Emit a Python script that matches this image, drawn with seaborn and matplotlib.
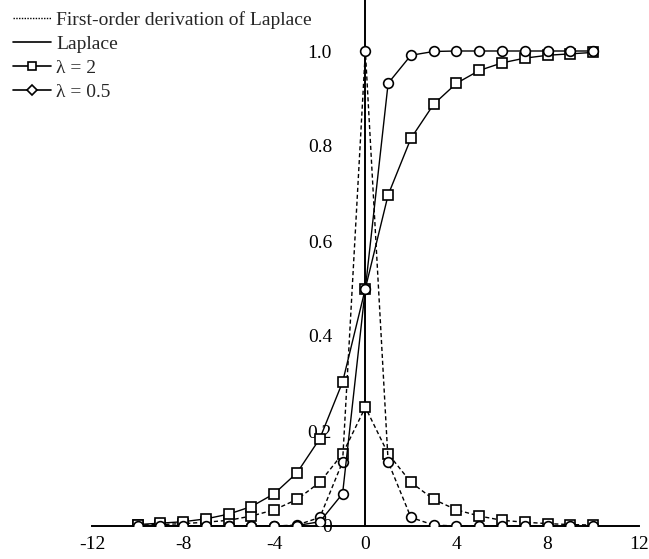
import numpy as np
import pandas as pd
import matplotlib
matplotlib.use('Agg')
import matplotlib.pyplot as plt
import seaborn as sns
from matplotlib.lines import Line2D

sns.set_style('white')
plt.rcParams['font.family'] = ['Liberation Serif', 'DejaVu Serif']

# values (markers at integer x)
x = list(range(-10, 11))
cdf_l2 = [0.003, 0.006, 0.009, 0.015, 0.025, 0.041, 0.068, 0.112, 0.184, 0.303, 0.5,
          0.697, 0.816, 0.888, 0.932, 0.959, 0.975, 0.985, 0.991, 0.994, 0.997]
cdf_l05 = [0.0, 0.0, 0.0, 0.0, 0.0, 0.0, 0.0, 0.001, 0.009, 0.068, 0.5,
           0.932, 0.991, 0.999, 1.0, 1.0, 1.0, 1.0, 1.0, 1.0, 1.0]
pdf_l2 = [0.002, 0.003, 0.005, 0.008, 0.012, 0.021, 0.034, 0.056, 0.092, 0.152, 0.25,
          0.152, 0.092, 0.056, 0.034, 0.021, 0.012, 0.008, 0.005, 0.003, 0.002]
pdf_l05 = [0.0, 0.0, 0.0, 0.0, 0.0, 0.0, 0.0, 0.002, 0.018, 0.135, 1.0,
           0.135, 0.018, 0.002, 0.0, 0.0, 0.0, 0.0, 0.0, 0.0, 0.0]
xticks = [-12, -8, -4, 0, 4, 8, 12]
yticks = [0, 0.2, 0.4, 0.6, 0.8, 1.0]
ytick_labels = ['0', '0.2', '0.4', '0.6', '0.8', '1.0']

df = pd.DataFrame({'x': x, 'cdf_l2': cdf_l2, 'cdf_l05': cdf_l05,
                   'pdf_l2': pdf_l2, 'pdf_l05': pdf_l05})

fig = plt.figure(figsize=(6.49, 5.59), dpi=100)
ax = fig.add_axes([92 / 649, 33 / 559, 549 / 649, 526 / 559])

mk = dict(markersize=7, markerfacecolor='white', markeredgecolor='black',
          markeredgewidth=1.2, color='black', linewidth=1.0, legend=False)
dash = (0, (3, 2))

sns.lineplot(data=df, x='x', y='pdf_l2', marker='s', linestyle=dash, ax=ax, zorder=3, **mk)
sns.lineplot(data=df, x='x', y='pdf_l05', marker='o', linestyle=dash, ax=ax, zorder=3, **mk)
sns.lineplot(data=df, x='x', y='cdf_l2', marker='s', linestyle='-', ax=ax, zorder=4, **mk)
sns.lineplot(data=df, x='x', y='cdf_l05', marker='o', linestyle='-', ax=ax, zorder=4, **mk)

ax.set_xlim(-12, 12.1)
ax.set_ylim(0, 526 / 475)

for s in ['top', 'right']:
    ax.spines[s].set_visible(False)
ax.spines['left'].set_position(('data', 0))
ax.spines['bottom'].set_position(('data', 0))
ax.spines['bottom'].set_bounds(-12, 12)
for s in ['left', 'bottom']:
    ax.spines[s].set_linewidth(1.4)
    ax.spines[s].set_color('black')
    ax.spines[s].set_zorder(2)

ax.set_xticks(xticks)
ax.set_xticklabels([str(t) for t in xticks])
ax.set_yticks(yticks)
ax.set_yticklabels(ytick_labels)
ax.tick_params(axis='x', length=0, pad=7, labelsize=14, colors='black')
ax.tick_params(axis='y', direction='in', length=6, width=1.2, pad=24, labelsize=14,
               colors='black')
ax.set_xticks([-12, 12], minor=True)
ax.tick_params(axis='x', which='minor', direction='in', length=6, width=1.2)
ax.set_xlabel('')
ax.set_ylabel('')

handles = [
    Line2D([], [], color='black', linestyle=(0, (1, 1)), linewidth=1.0),
    Line2D([], [], color='black', linestyle='-', linewidth=1.2),
    Line2D([], [], color='black', linestyle='-', linewidth=1.2, marker='s',
           markersize=6, markerfacecolor='white', markeredgewidth=1.2),
    Line2D([], [], color='black', linestyle='-', linewidth=1.2, marker='D',
           markersize=5, markerfacecolor='white', markeredgewidth=1.2),
]
labels = ['First-order derivation of Laplace', 'Laplace', 'λ = 2', 'λ = 0.5']
fig.legend(handles, labels, loc='upper left', bbox_to_anchor=(0.003, 1.0),
           frameon=False, fontsize=14, handlelength=1.95, handletextpad=0.3,
           labelspacing=0.33, borderaxespad=0.15)

fig.savefig('out.png', dpi=100)
